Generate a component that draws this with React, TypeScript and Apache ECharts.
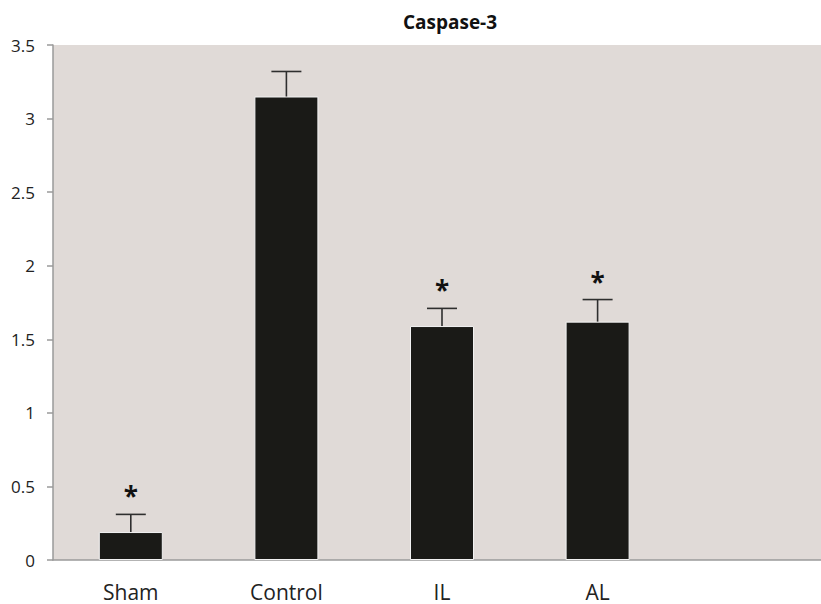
import React, { useEffect, useRef } from "react";
import * as echarts from "echarts";

const categories = ["Sham", "Control", "IL", "AL", ""];
const means = [0.19, 3.15, 1.59, 1.62, null];
const errorTops = [0.31, 3.32, 1.71, 1.77, null];
const significant = [true, false, true, true, false];
const yTicks = [0, 0.5, 1, 1.5, 2, 2.5, 3, 3.5];

export default function App() {
  const ref = useRef<HTMLDivElement>(null);
  useEffect(() => {
    if (!ref.current) return;
    const chart = echarts.init(ref.current, null, { renderer: "svg" });
    const font = "'Open Sans', 'Noto Sans', sans-serif";
    chart.setOption({
      animation: false,
      backgroundColor: "#ffffff",
      graphic: [
        {
          type: "text",
          x: 450,
          y: 22,
          style: {
            text: "Caspase-3",
            font: `bold 19px ${font}`,
            fill: "#111",
            textAlign: "center",
            textVerticalAlign: "middle",
          },
        },
      ],
      grid: {
        left: 53,
        width: 778,
        top: 45,
        bottom: 44,
        outerBoundsMode: "none",
        containLabel: false,
        show: true,
        backgroundColor: "#e0dad7",
        borderWidth: 0,
      },
      xAxis: {
        type: "category",
        data: categories,
        axisLine: { lineStyle: { color: "#9a9a9a", width: 1.5 } },
        axisTick: { length: 8, lineStyle: { color: "#9a9a9a", width: 1.5 } },
        axisLabel: { color: "#222", fontSize: 21, fontFamily: font, margin: 21 },
      },
      yAxis: {
        type: "value",
        min: 0,
        max: yTicks[yTicks.length - 1],
        interval: 0.5,
        splitLine: { show: false },
        axisLine: { show: true, lineStyle: { color: "#9a9a9a", width: 1.5 } },
        axisTick: { show: true, length: 6, lineStyle: { color: "#9a9a9a", width: 1.5 } },
        axisLabel: { color: "#222", fontSize: 17, fontFamily: font, margin: 18 },
      },
      series: [
        {
          type: "bar",
          data: means,
          barWidth: 64,
          itemStyle: { color: "#1a1a17", borderColor: "#f2f2f2", borderWidth: 1 },
          z: 2,
        },
        {
          type: "custom",
          z: 3,
          data: categories.map((_, i) => [i, means[i], errorTops[i]]),
          renderItem: (params: any, api: any) => {
            const i = api.value(0);
            const m = means[i];
            const t = errorTops[i];
            if (m == null || t == null) return null;
            const base = api.coord([i, m]);
            const top = api.coord([i, t]);
            const half = 15;
            const style = { stroke: "#2e2e2e", lineWidth: 1.6 };
            const children: any[] = [
              { type: "line", shape: { x1: top[0], y1: base[1], x2: top[0], y2: top[1] }, style },
              { type: "line", shape: { x1: top[0] - half, y1: top[1], x2: top[0] + half, y2: top[1] }, style },
            ];
            if (significant[i]) {
              children.push({
                type: "text",
                x: top[0],
                y: top[1] - 18,
                style: {
                  text: "*",
                  font: `bold 26px ${font}`,
                  fill: "#111",
                  textAlign: "center",
                  textVerticalAlign: "middle",
                },
              });
            }
            return { type: "group", children };
          },
        },
      ],
    });
    return () => chart.dispose();
  }, []);
  return (
    <div
      ref={ref}
      style={{ position: "fixed", left: 0, top: 0, width: 821, height: 604, overflow: "hidden" }}
    />
  );
}
